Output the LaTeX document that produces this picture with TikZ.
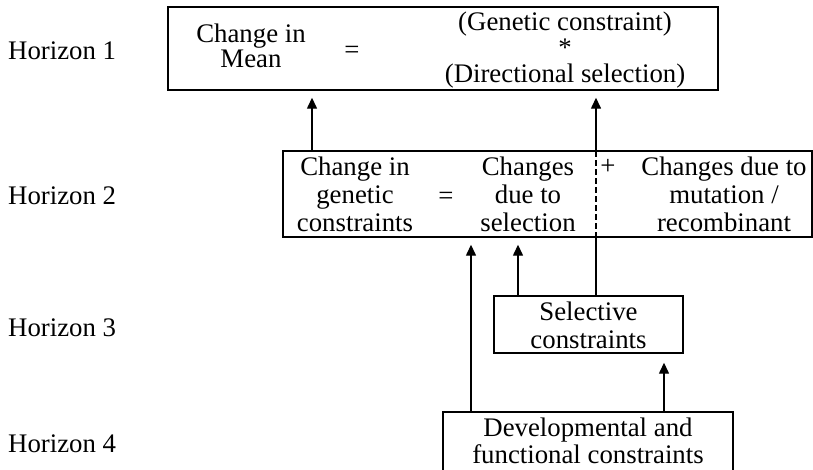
\documentclass[tikz,border=0pt]{standalone}
\usepackage{fontspec}
\setmainfont{Liberation Serif}
\usetikzlibrary{arrows.meta}
\begin{document}
\begin{tikzpicture}[x=1pt,y=-1pt,
  box/.style={draw, line width=1.4pt, inner sep=0pt, rectangle},
  txt/.style={anchor=base, inner sep=0pt, font=\fontsize{26.8}{30}\selectfont},
  lbl/.style={anchor=base west, inner sep=0pt, font=\fontsize{26.8}{30}\selectfont},
  arr/.style={line width=1.4pt, -{Triangle[length=11pt,width=10pt]}, shorten >=7pt},
  ln/.style={line width=1.4pt}]
\useasboundingbox (0,0) rectangle (813,469);

% boxes
\node[box, minimum width=550pt, minimum height=83pt] (h1) at (443,48.5) {};
\node[box, minimum width=529pt, minimum height=86pt] (h2) at (547.5,194) {};
\node[box, minimum width=189pt, minimum height=57pt] (sel) at (588.5,324.5) {};
\node[box, minimum width=290pt, minimum height=66pt] (dev) at (588,445) {};

% horizon labels
\node[lbl] (hz1) at (8,59) {Horizon 1};
\node[lbl] (hz2) at (8,204) {Horizon 2};
\node[lbl] (hz3) at (8,336) {Horizon 3};
\node[lbl] (hz4) at (8,452) {Horizon 4};

% horizon 1 text
\node[txt] (t1a) at (251,42) {Change in};
\node[txt] (t1b) at (251,67) {Mean};
\node[txt] (t1eq) at (352,58) {=};
\node[txt] (t1c) at (565,30) {(Genetic constraint)};
\node[txt] (t1d) at (565,56) {*};
\node[txt] (t1e) at (565,82) {(Directional selection)};

% horizon 2 text
\node[txt] (t2a) at (355,175) {Change in};
\node[txt] (t2b) at (355,203) {genetic};
\node[txt] (t2c) at (355,231) {constraints};
\node[txt] (t2eq) at (446,204) {=};
\node[txt] (t2d) at (528,175) {Changes};
\node[txt] (t2e) at (528,203) {due to};
\node[txt] (t2f) at (528,231) {selection};
\node[txt] (t2plus) at (608,174) {+};
\node[txt] (t2g) at (724,175) {Changes due to};
\node[txt] (t2h) at (724,203) {mutation /};
\node[txt] (t2i) at (724,231) {recombinant};

% horizon 3 / 4 text
\node[txt] (t3a) at (588.5,320) {Selective};
\node[txt] (t3b) at (588.5,348) {constraints};
\node[txt] (t4a) at (588,436) {Developmental and};
\node[txt] (t4b) at (588,463.5) {functional constraints};

% connector columns
\coordinate (xa) at (312,0);
\coordinate (xb) at (471,0);
\coordinate (xc) at (518,0);
\coordinate (xd) at (596,0);
\coordinate (xe) at (664,0);

\draw[arr] (xa |- h2.north) -- (xa |- h1.south);
\draw[ln] (xd |- sel.north) -- (xd |- h2.south);
\draw[ln, dash pattern=on 6pt off 3pt] (xd |- h2.south) -- (xd |- h2.north);
\draw[arr] (xd |- h2.north) -- (xd |- h1.south);
\draw[arr] (xb |- dev.north) -- (xb |- h2.south);
\draw[arr] (xc |- sel.north) -- (xc |- h2.south);
\draw[arr, shorten >=9pt] (xe |- dev.north) -- (xe |- sel.south);
\end{tikzpicture}
\end{document}
